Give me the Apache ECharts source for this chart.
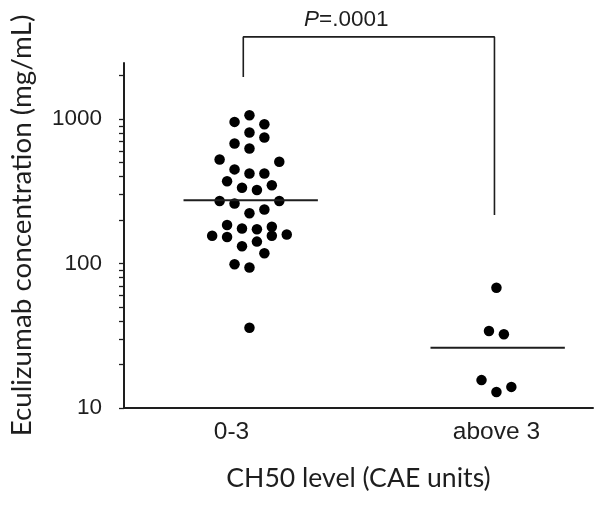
<!DOCTYPE html>
<html>
<head>
<meta charset="utf-8">
<script src="https://cdn.jsdelivr.net/npm/echarts@6/dist/echarts.min.js"></script>
<style>html,body{margin:0;padding:0;background:#fff;}#c{width:604px;height:506px;}</style>
</head>
<body>
<div id="c"></div>
<script>
// ---- data ----
const categories = ['0-3', 'above 3'];
const lowValues = [1066, 958, 923, 809, 747, 679, 627, 526, 507, 449, 421, 421, 372, 349, 335, 323, 271, 261, 271, 237, 223, 185, 175, 173, 180, 156, 153, 156, 159, 142, 132, 118, 99, 94, 36];
const lowColumns = [0, -2, 2, 0, 2, -2, 0, -4, 4, -2, 0, 2, -3, 3, -1, 1, -4, -2, 4, 2, 0, -3, -1, 1, 3, -5, -3, 3, 5, 1, -1, 2, -2, 0, 0];
const highValues = [68, 34.1, 32.4, 15.6, 12.9, 14.0];
const highColumns = [0, -1, 1, -2, 0, 2];
const medians = [275, 26.1];
const yTickValues = [10, 100, 1000];
const yMinorTickValues = [20, 30, 40, 50, 60, 70, 80, 90, 200, 300, 400, 500, 600, 700, 800, 900, 2000];
const bracketX = [-0.025, -0.025, 0.992, 0.992];
const bracketY = [1963, 3715, 3715, 217];
const pText = '.0001';

// ---- build ----
const X0 = 0.508;          // axis starts X0 group-widths left of the first group
const COL = 0.0302;        // horizontal spacing of one dot column, in group-widths
const gx = (g) => g + X0;
const toPts = (vals, cols, g) => vals.map((v, i) => [gx(g + cols[i] * COL), v]);
const medianLine = (g, m) => [[gx(g - 0.267), m], [gx(g + 0.277), m]];
const ink = '#1e1e1e';

const chart = echarts.init(document.getElementById('c'), null, {renderer: 'canvas'});
chart.setOption({
  animation: false,
  backgroundColor: '#fff',
  title: {
    text: '{i|P}=' + pText,
    left: 299, top: 3,
    textStyle: {
      fontFamily: 'Liberation Sans', fontSize: 22.5, fontWeight: 'normal', color: ink,
      rich: { i: { fontFamily: 'Liberation Sans', fontSize: 22.5, fontStyle: 'italic', color: ink } }
    }
  },
  grid: { left: 122, right: 11, top: 63, bottom: 98, containLabel: false },
  xAxis: {
    type: 'value', min: 0, max: 1.899,
    splitLine: { show: false },
    axisLine: { show: true, onZero: false, lineStyle: { color: ink, width: 2 } },
    axisTick: { show: false },
    axisLabel: {
      show: true, margin: 12,
      customValues: categories.map((c, i) => gx(i)),
      formatter: (v) => {
        const i = Math.round(v - X0);
        return i === 0 ? '{a|' + categories[0] + '}' : categories[i];
      },
      fontFamily: 'Liberation Sans', fontSize: 24.5, color: ink,
      rich: { a: { fontFamily: 'Liberation Sans', fontSize: 24.5, color: ink, padding: [0, 36, 0, 0] } }
    },
    name: 'CH50 level (CAE units)',
    nameLocation: 'middle', nameGap: 57,
    nameTextStyle: { fontFamily: 'Lato', fontSize: 26.6, color: ink }
  },
  yAxis: {
    type: 'log', logBase: 10, min: 10, max: 2450,
    splitLine: { show: false },
    axisLine: { show: true, onZero: false, lineStyle: { color: ink, width: 2 } },
    axisTick: { show: true, inside: false, length: 5, customValues: yTickValues.concat(yMinorTickValues), lineStyle: { color: ink, width: 1.3 } },
    axisLabel: {
      margin: 22, customValues: yTickValues,
      formatter: (v) => String(Math.round(v)),
      fontFamily: 'Liberation Sans', fontSize: 22.5, color: ink
    },
    name: 'Eculizumab concentration (mg/mL)',
    nameLocation: 'middle', nameGap: 88, nameRotate: 90,
    nameTextStyle: { fontFamily: 'Lato', fontSize: 27.8, color: ink, padding: [0, 0, 0, 20] }
  },
  series: [
    { type: 'scatter', data: toPts(lowValues, lowColumns, 0), symbolSize: 10.5, itemStyle: { color: '#000', opacity: 1 } },
    { type: 'scatter', data: toPts(highValues, highColumns, 1), symbolSize: 10.5, itemStyle: { color: '#000', opacity: 1 } },
    { type: 'line', data: medianLine(0, medians[0]), symbol: 'none', lineStyle: { color: ink, width: 2 } },
    { type: 'line', data: medianLine(1, medians[1]), symbol: 'none', lineStyle: { color: ink, width: 2 } },
    { type: 'line', data: bracketX.map((x, i) => [gx(x), bracketY[i]]), symbol: 'none', clip: false,
      lineStyle: { color: ink, width: 1.6 } }
  ]
});
</script>
</body>
</html>
